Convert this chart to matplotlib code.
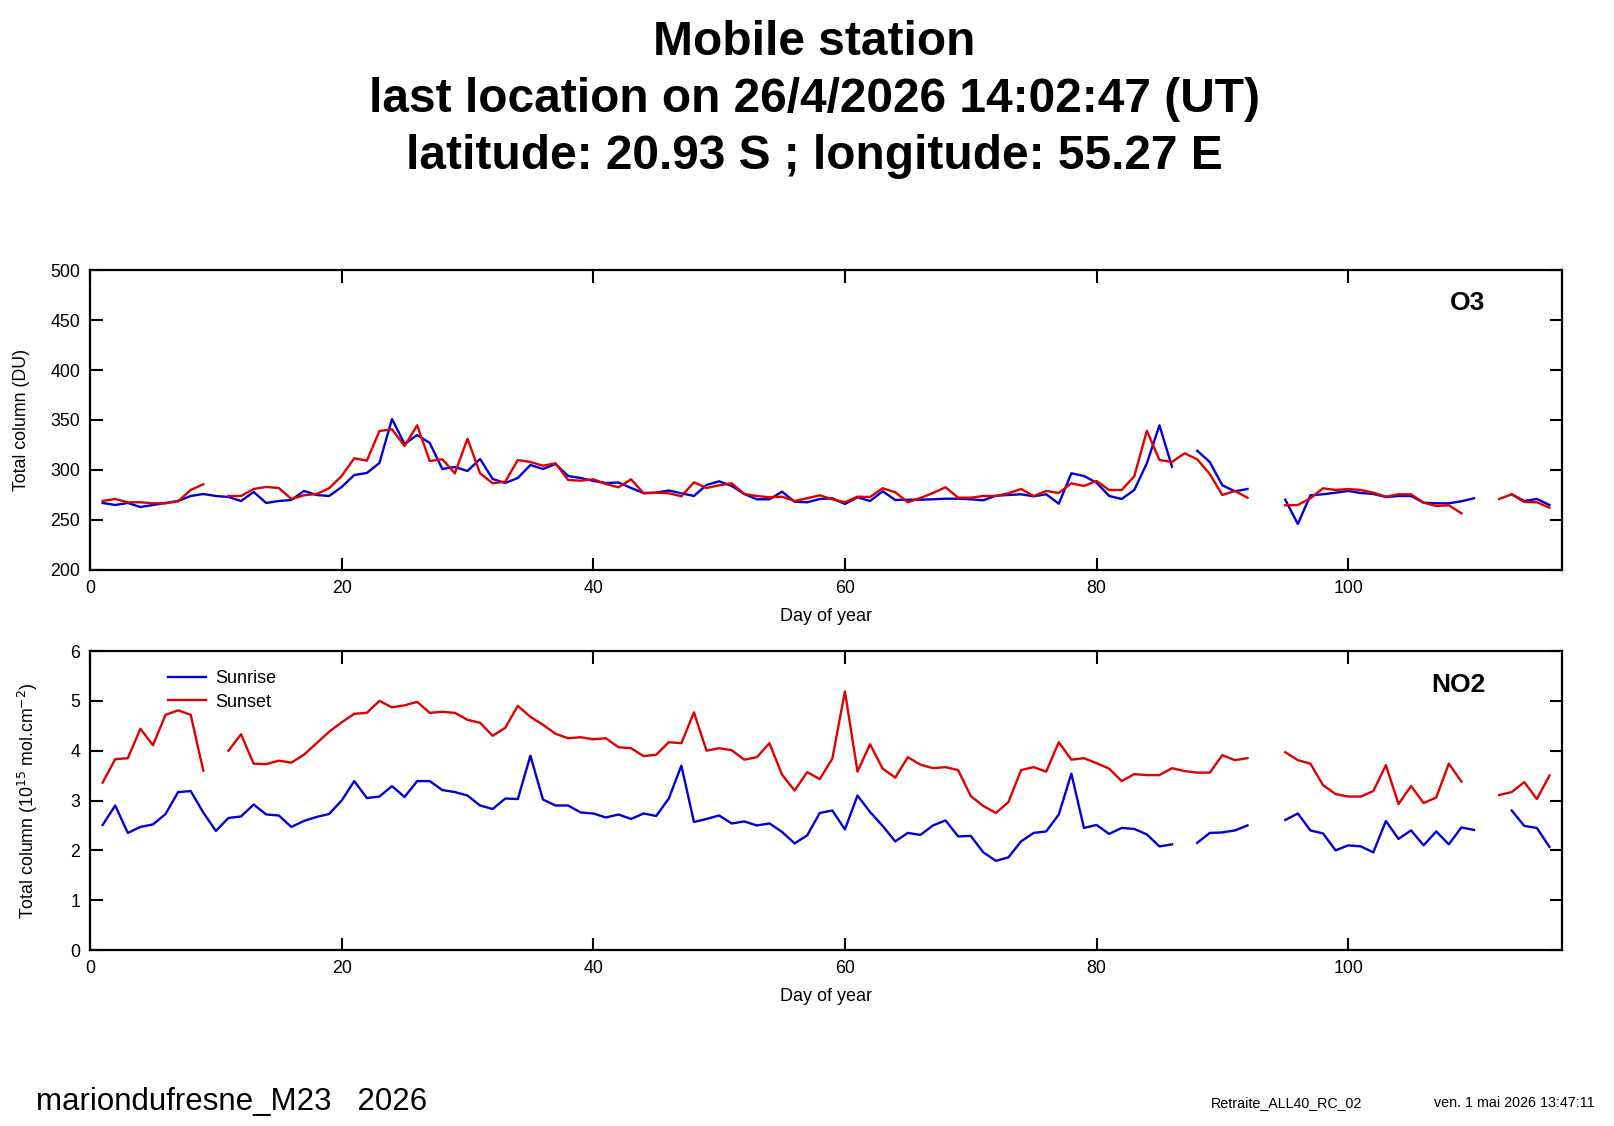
import numpy as np
import matplotlib
matplotlib.use("Agg")
import matplotlib.pyplot as plt

nan = np.nan

days = list(range(1, 117))

o3_sunrise = [
    267, 265, 267, 263, 265, 267, 269, 274, 276, 274,
    273, 269, 278, 267, 269, 270, 279, 275, 274, 283,
    295, 297, 307, 351, 326, 335, 327, 301, 303, 299,
    311, 291, 287, 292, 305, 301, 306, 294, 292, 289,
    287, 287.5, 282, 277, 277.3, 279.5, 276.7, 274, 285, 288.7,
    284, 276, 270.7, 270.7, 278.3, 268.3, 267.7, 271, 271.7, 266,
    272.7, 269, 278.7, 270, 270.3, 270.3, 270.7, 271.3, 271.3, 270.7,
    269.7, 274.3, 275, 275.7, 273.7, 275.7, 266.3, 296.7, 294, 287.3,
    274, 271, 280, 306.7, 344.7, 303.3, nan, 319.3, 308, 284.7,
    278.7, 281, nan, nan, 270.3, 246, 274.7, 275.7, 277.3, 279,
    277, 276, 273, 274, 274, 267.3, 266.7, 266.7, 268.7, 271.7,
    nan, nan, 275.7, 269, 271, 265,
]

o3_sunset = [
    269, 271, 267.7, 267.7, 266.7, 266.7, 268.7, 280, 285.7, nan,
    274, 274, 281, 283, 282, 271, 274.7, 276, 281.7, 294,
    311.7, 309.3, 339, 340.7, 324, 344.7, 309, 310.7, 296.7, 331.3,
    296.7, 286.7, 288.3, 310, 308, 304.3, 306.7, 290, 289.3, 290.7,
    286, 282.7, 290.7, 276.7, 277.3, 276.7, 273.7, 287.7, 282, 284.7,
    286.7, 276, 274, 272.7, 273.3, 269, 271.7, 274.7, 270.7, 267.7,
    273.3, 273, 281.7, 277.7, 267.7, 272, 277, 282.7, 272.3, 272.3,
    274, 274, 276.7, 281, 274, 279, 277, 286.7, 284, 289,
    280, 280, 293.7, 339.3, 310, 308, 316.7, 310.7, 296, 275,
    279, 272.3, nan, nan, 264.7, 265, 271.7, 281.7, 280, 281,
    280, 277.3, 273.3, 275.7, 275.7, 267.3, 264, 264.7, 256.7, nan,
    nan, 271, 275.7, 268, 267.7, 262.3,
]

no2_sunrise = [
    2.51, 2.90, 2.35, 2.47, 2.52, 2.73, 3.17, 3.19, 2.76, 2.39,
    2.65, 2.68, 2.92, 2.72, 2.70, 2.47, 2.59, 2.67, 2.73, 3.00,
    3.39, 3.05, 3.08, 3.29, 3.07, 3.39, 3.39, 3.21, 3.17, 3.10,
    2.90, 2.83, 3.04, 3.03, 3.90, 3.02, 2.90, 2.90, 2.76, 2.74,
    2.66, 2.72, 2.63, 2.74, 2.69, 3.04, 3.70, 2.57, 2.63, 2.70,
    2.54, 2.58, 2.50, 2.54, 2.37, 2.14, 2.30, 2.75, 2.80, 2.42,
    3.10, 2.77, 2.49, 2.18, 2.35, 2.31, 2.50, 2.60, 2.28, 2.29,
    1.96, 1.79, 1.86, 2.18, 2.35, 2.38, 2.72, 3.54, 2.45, 2.51,
    2.33, 2.45, 2.43, 2.32, 2.08, 2.12, nan, 2.15, 2.35, 2.36,
    2.40, 2.50, nan, nan, 2.61, 2.74, 2.40, 2.34, 2.00, 2.10,
    2.08, 1.96, 2.59, 2.23, 2.40, 2.10, 2.38, 2.12, 2.46, 2.41,
    nan, nan, 2.80, 2.49, 2.45, 2.07,
]

no2_sunset = [
    3.36, 3.83, 3.85, 4.44, 4.11, 4.72, 4.81, 4.72, 3.60, nan,
    4.00, 4.33, 3.74, 3.73, 3.80, 3.76, 3.92, 4.15, 4.38, 4.57,
    4.74, 4.76, 5.00, 4.87, 4.91, 4.98, 4.76, 4.78, 4.76, 4.62,
    4.56, 4.30, 4.46, 4.90, 4.68, 4.52, 4.34, 4.25, 4.27, 4.23,
    4.25, 4.07, 4.05, 3.89, 3.92, 4.17, 4.15, 4.77, 4.00, 4.05,
    4.01, 3.82, 3.87, 4.15, 3.52, 3.20, 3.57, 3.43, 3.84, 5.19,
    3.58, 4.13, 3.64, 3.46, 3.87, 3.72, 3.65, 3.67, 3.61, 3.09,
    2.89, 2.75, 2.97, 3.61, 3.67, 3.58, 4.17, 3.82, 3.85, 3.75,
    3.64, 3.39, 3.53, 3.51, 3.51, 3.65, 3.59, 3.56, 3.56, 3.91,
    3.81, 3.85, nan, nan, 3.97, 3.81, 3.74, 3.31, 3.13, 3.08,
    3.08, 3.19, 3.71, 2.93, 3.29, 2.95, 3.06, 3.74, 3.38, nan,
    nan, 3.11, 3.17, 3.37, 3.03, 3.50,
]

title_lines = [
    "Mobile station",
    "last location on 26/4/2026 14:02:47 (UT)",
    "latitude: 20.93 S ; longitude: 55.27 E",
]

plt.rcParams["font.family"] = ["Liberation Sans", "DejaVu Sans"]

blue = "#0000d8"
red = "#e00000"

fig = plt.figure(figsize=(16.14, 11.26), dpi=100)

ax1 = fig.add_axes([0.0558, 0.4938, 0.912, 0.2664])
ax2 = fig.add_axes([0.0558, 0.1563, 0.912, 0.2655])

ax1.plot(days, o3_sunrise, color=blue, lw=1.7)
ax1.plot(days, o3_sunset, color=red, lw=1.7)
ax1.set_ylim(200, 500)
ax1.set_yticks(np.arange(200, 501, 50))
ax1.set_ylabel("Total column (DU)", fontsize=12.8)
ax1.yaxis.set_label_coords(-0.041, 0.5)
ax1.text(0.948, 0.89, "O3", transform=ax1.transAxes, fontsize=19,
         fontweight="bold", ha="right", va="center")

ax2.plot(days, no2_sunrise, color=blue, lw=1.7, label="Sunrise")
ax2.plot(days, no2_sunset, color=red, lw=1.7, label="Sunset")
ax2.set_ylim(0, 6)
ax2.set_yticks(range(0, 7))
ax2.set_ylabel(r"Total column (10$^{15}$ mol.cm$^{-2}$)", fontsize=12.8)
ax2.yaxis.set_label_coords(-0.034, 0.5)
ax2.text(0.948, 0.885, "NO2", transform=ax2.transAxes, fontsize=19,
         fontweight="bold", ha="right", va="center")
ax2.legend(loc="upper left", bbox_to_anchor=(0.053, 0.935), frameon=False,
           fontsize=13, handlelength=2.1, handletextpad=0.5,
           labelspacing=0.35, borderpad=0, borderaxespad=0)

for ax in (ax1, ax2):
    ax.set_xlim(0, 117)
    ax.set_xticks(range(0, 101, 20))
    ax.set_xlabel("Day of year", fontsize=13, labelpad=8)
    ax.tick_params(direction="in", length=9, width=1.5, labelsize=12.8,
                   top=True, right=True, pad=7)
    for s in ax.spines.values():
        s.set_linewidth(1.6)

fig.text(0.5045, 0.982, "\n".join(title_lines), ha="center", va="top",
         fontsize=34.5, fontweight="bold", linespacing=1.34)

fig.text(0.022, 0.0215, "mariondufresne_M23   2026", fontsize=22.5,
         va="center", ha="left")
fig.text(0.7505, 0.02, "Retraite_ALL40_RC_02", fontsize=10.3, va="center")
fig.text(0.8885, 0.02, "ven. 1 mai 2026 13:47:11", fontsize=10.3, va="center")

fig.savefig("out.png", dpi=100)
